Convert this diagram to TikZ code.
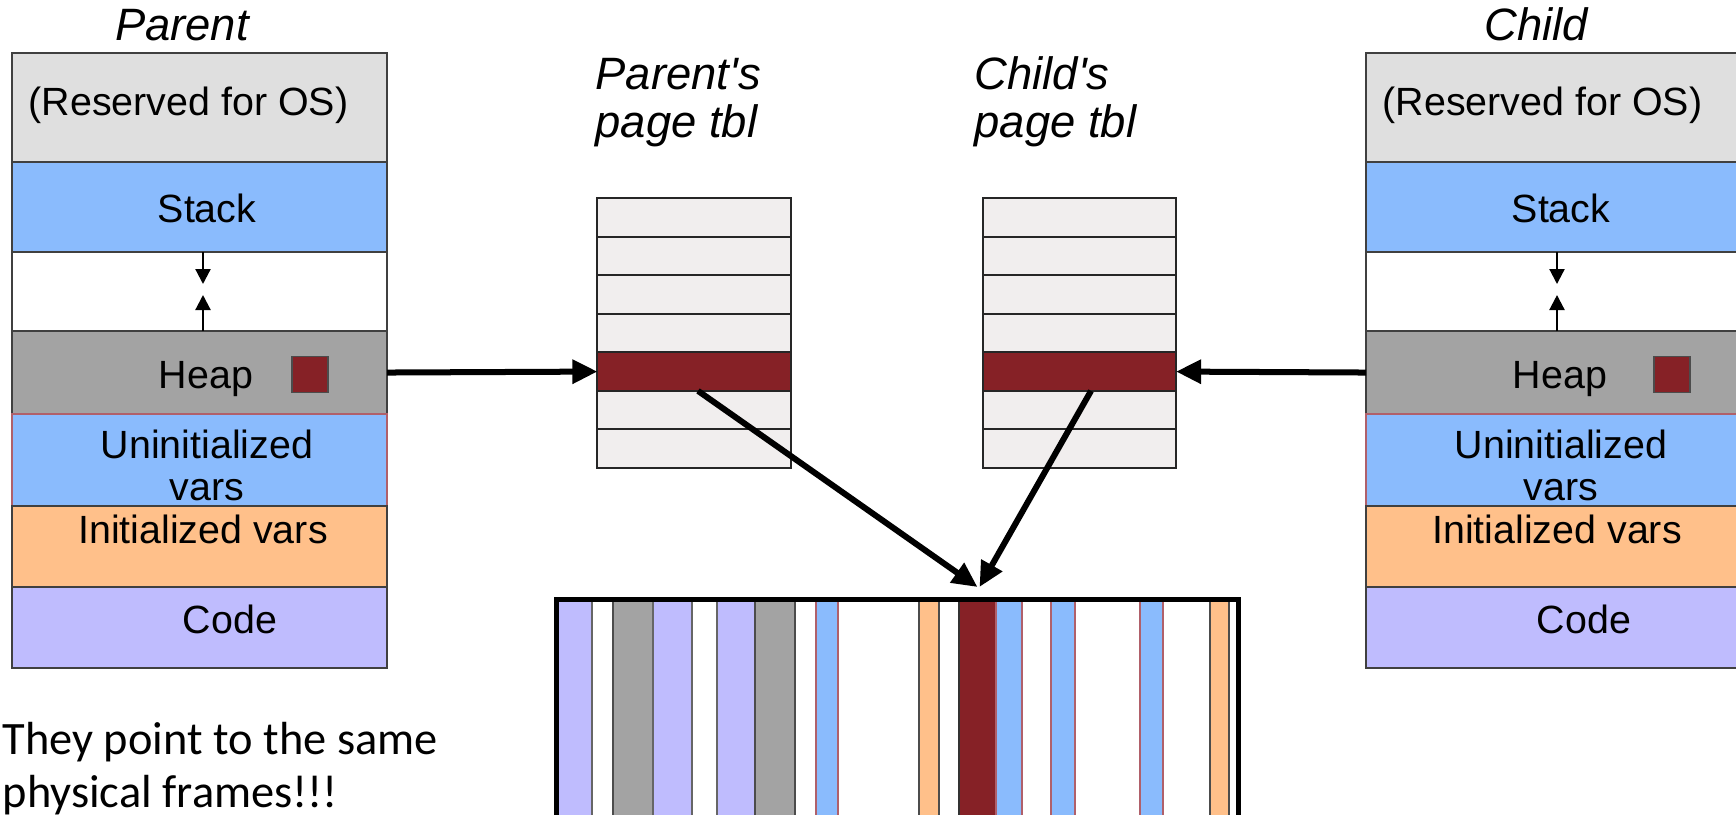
\documentclass[tikz,border=0pt]{standalone}
\usepackage{fontspec}
\setmainfont{Liberation Sans}
\newfontfamily\notefont{Carlito}
\usetikzlibrary{arrows.meta}

\definecolor{osgray}{HTML}{DFDFDF}
\definecolor{stackblue}{HTML}{8ABBFD}
\definecolor{heapgray}{HTML}{A3A3A3}
\definecolor{dataorange}{HTML}{FFC08A}
\definecolor{codelav}{HTML}{BFBCFE}
\definecolor{framered}{HTML}{862126}
\definecolor{tblgray}{HTML}{F1EEEE}
\definecolor{bssedge}{HTML}{B0606A}

\begin{document}
\begin{tikzpicture}[x=0.01cm,y=-0.01cm,
    seg/.style={draw=black!75, line width=0.02cm, minimum width=3.75cm,
      inner sep=0, outer sep=0, anchor=north west},
    lbl/.style={inner sep=0, anchor=base, font=\fontsize{11.2pt}{13pt}\selectfont},
    title/.style={inner sep=0, anchor=base, font=\fontsize{12.9pt}{15pt}\selectfont\itshape},
    tblrow/.style={draw=black!85, line width=0.02cm, minimum width=1.93cm,
      minimum height=0.3857cm, inner sep=0, outer sep=0},
    stripe/.style={line width=0.015cm, inner sep=0, outer sep=0,
      minimum height=2.4cm, anchor=north west},
    bigarrow/.style={line width=0.06cm, -{Triangle[length=0.25cm,width=0.23cm]}},
    smallarrow/.style={line width=0.022cm, -{Triangle[length=0.15cm,width=0.15cm]}}]
  \useasboundingbox (0,0) rectangle (1736,814);
  \clip (0,0) rectangle (1736,814);

  % the two address spaces
  \foreach \t/\dx/\sq/\who in {p/0/310/Parent, c/1354/318/Child} {
    \node[seg, fill=osgray, minimum height=1.09cm] (\t os) at ({12+\dx},53) {};
    \node[seg, fill=stackblue, minimum height=0.90cm] (\t stack) at ({12+\dx},162) {};
    \node[seg, fill=white, minimum height=0.79cm] (\t gap) at ({12+\dx},252) {};
    \node[seg, fill=heapgray, minimum height=0.83cm] (\t heap) at ({12+\dx},331) {};
    \node[seg, fill=stackblue, draw=bssedge, minimum height=0.92cm] (\t bss) at ({12+\dx},414) {};
    \node[seg, fill=dataorange, minimum height=0.81cm] (\t data) at ({12+\dx},506) {};
    \node[seg, fill=codelav, minimum height=0.81cm] (\t code) at ({12+\dx},587) {};

    \node[title] (\t name) at ({182+\dx},40) {\who};
    \node[lbl, anchor=base west] (\t ostxt) at ({28+\dx},115) {(Reserved for OS)};
    \node[lbl] (\t stacktxt) at ({207+\dx},222) {Stack};
    \node[lbl] (\t heaptxt) at ({206+\dx},388) {Heap};
    \node[lbl] (\t bsstxt) at ({207+\dx},458) {Uninitialized};
    \node[lbl] (\t bsstxtb) at ({207+\dx},500) {vars};
    \node[lbl] (\t datatxt) at ({203+\dx},543) {Initialized vars};
    \node[lbl] (\t codetxt) at ({230+\dx},633) {Code};

    \node[draw=black!70, line width=0.015cm, fill=framered, minimum size=0.36cm,
      inner sep=0] (\t page) at ({\sq+\dx},374.5) {};

    \coordinate (\t down) at ({203+\dx},284);
    \coordinate (\t up) at ({203+\dx},295);
    \draw[smallarrow] (\t stack.south -| \t down) -- (\t down);
    \draw[smallarrow] (\t heap.north -| \t up) -- (\t up);
  }

  % page tables
  \foreach \t/\x in {p/694, c/1079.5} {
    \foreach \i/\col in {1/tblgray, 2/tblgray, 3/tblgray, 4/tblgray,
                         5/framered, 6/tblgray, 7/tblgray} {
      \node[tblrow, fill=\col] (\t tbl\i) at ({\x},{198+38.57*(\i-0.5)}) {};
    }
  }
  \node[title, anchor=base west] (ptbllbl) at (595,89) {Parent\textquotesingle s};
  \node[title, anchor=base west] (ptbllblb) at (595,137) {page tbl};
  \node[title, anchor=base west] (ctbllbl) at (974,89) {Child\textquotesingle s};
  \node[title, anchor=base west] (ctbllblb) at (974,137) {page tbl};

  % physical frames
  \foreach \i/\xa/\xb/\col/\edge in {1/558/592/codelav/black!60, 2/613/653/heapgray/black!70,
      3/653/692/codelav/black!60, 4/717/755/codelav/black!60, 5/755/795/heapgray/black!70,
      6/816/838/stackblue/bssedge, 7/919/939/dataorange/black!70, 8/959/996/framered/black!80,
      9/996/1022/stackblue/bssedge, 10/1051/1075/stackblue/bssedge,
      11/1140/1163/stackblue/bssedge, 12/1210/1229/dataorange/black!70} {
    \node[stripe, fill=\col, draw=\edge, minimum width={(\xb-\xa)*0.01cm}] (f\i) at (\xa,600) {};
  }
  \node[draw, line width=0.05cm, minimum width=6.82cm, minimum height=2.4cm,
    inner sep=0, outer sep=0, anchor=north west] (mem) at (556,599) {};

  % arrows
  \draw[bigarrow] (pheap.east) -- (ptbl5.west);
  \draw[bigarrow] (cheap.west) -- (ctbl5.east);
  \draw[bigarrow] ([xshift=0.04cm]ptbl5.south) -- ([yshift=0.13cm]f8.north);
  \draw[bigarrow] ([xshift=0.115cm]ctbl5.south) -- ([xshift=0.02cm,yshift=0.13cm]f8.north);

  \node[inner sep=0, anchor=base west, font=\notefont\fontsize{13.2pt}{15pt}\selectfont]
    (note) at (2,754) {They point to the same};
  \node[inner sep=0, anchor=base west, font=\notefont\fontsize{13.2pt}{15pt}\selectfont]
    (noteb) at (2,807) {physical frames!!!};
\end{tikzpicture}
\end{document}
